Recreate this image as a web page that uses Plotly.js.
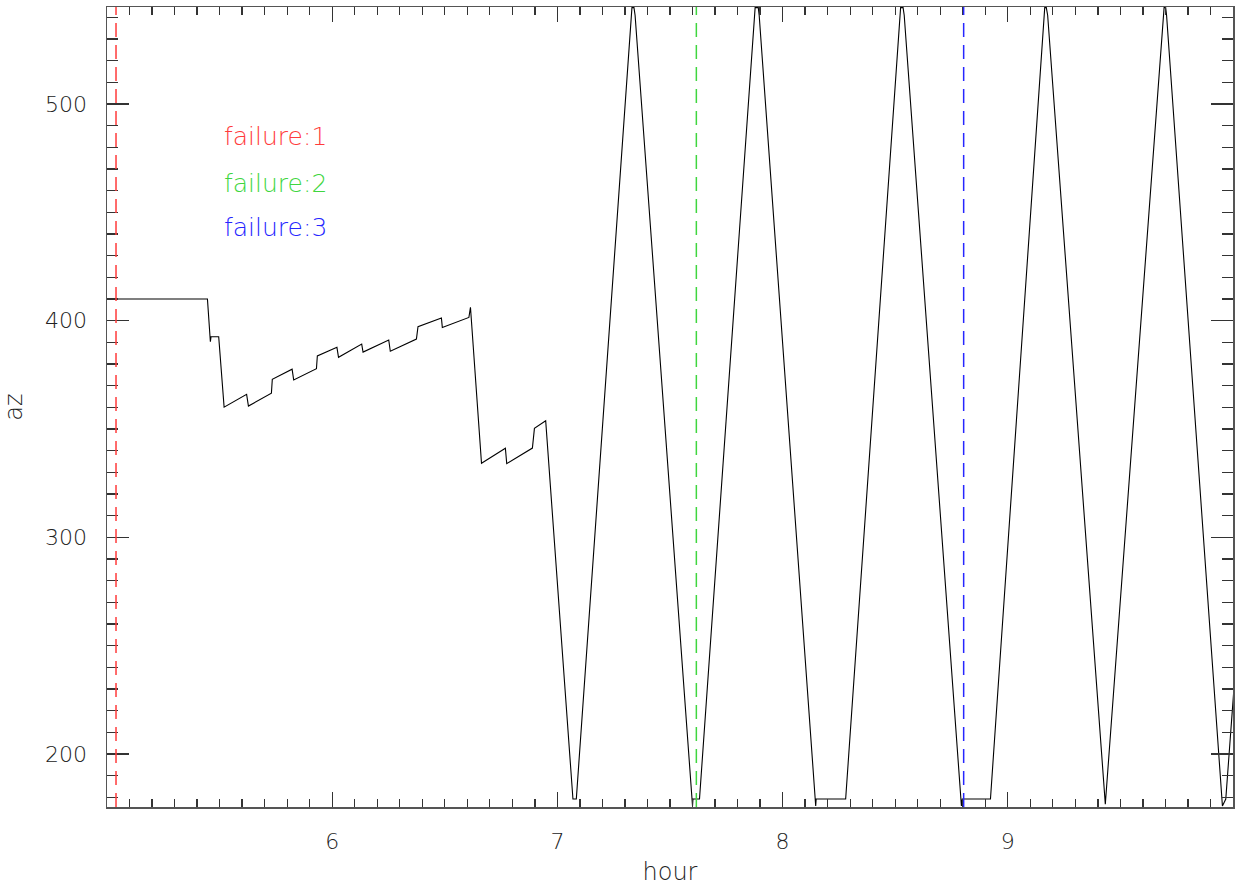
<!DOCTYPE html>
<html>
<head>
<meta charset="utf-8">
<script src="https://cdn.plot.ly/plotly-3.0.1.min.js"></script>
<style>html,body{margin:0;padding:0;background:#fff;}#chart{width:1241px;height:894px;}</style>
</head>
<body>
<div id="chart"></div>
<script>
// time in hours
const hour = [5.000,5.446,5.459,5.462,5.496,5.520,5.620,5.628,5.730,5.734,5.822,5.829,5.930,5.934,6.021,6.028,6.131,6.137,6.251,6.258,6.374,6.381,6.485,6.489,6.607,6.614,6.663,6.769,6.775,6.889,6.898,6.948,
  7.069,7.084,7.331,7.340,7.345,7.600,7.602,7.631,7.878,7.892,7.896,8.147,8.149,8.280,8.524,8.535,8.540,8.794,8.798,8.923,9.164,9.171,9.177,9.433,9.694,9.701,9.705,9.953,9.968,10.004];
// azimuth
const az = [410.0,410.0,390.3,392.6,392.6,360.1,366.0,360.6,366.5,372.9,377.6,372.6,377.8,383.7,387.7,383.1,389.2,385.5,391.1,385.9,391.5,397.2,401.2,396.9,401.5,406.2,334.2,341.1,334.0,341.2,350.3,353.8,
  179.2,179.2,544.5,544.5,541.0,176.0,179.2,179.2,544.5,544.5,541.0,176.0,179.2,179.2,544.5,544.5,541.0,176.0,179.2,179.2,544.5,544.5,541.0,176.8,544.5,544.5,541.0,176.0,179.2,230.0];

const failureHours = [5.04, 7.617, 8.804];
const failureLabels = ["failure:1", "failure:2", "failure:3"];
const failureColors = ["#ff3b3b", "#3fd63f", "#2626ff"];
const labelAz = [484.8, 463.5, 442.8];
const labelHour = 5.509;

const xTicks = [6, 7, 8, 9];
const yTicks = [200, 300, 400, 500];

const FAM = '"DejaVu Sans", "Liberation Sans", sans-serif';

const shapes = failureHours.map((h, i) => ({
  type: 'line', xref: 'x', yref: 'paper', x0: h, x1: h, y0: 0, y1: 1,
  line: {color: failureColors[i], width: 1.5, dash: '14px,8px'}
}));

const annotations = failureLabels.map((t, i) => ({
  x: labelHour, y: labelAz[i], xref: 'x', yref: 'y', text: t, showarrow: false,
  xanchor: 'left', yanchor: 'middle',
  font: {family: FAM, size: 25, weight: 200, color: failureColors[i]}
}));

const tickFont = {family: FAM, size: 22, weight: 200, color: '#222'};
const titleFont = {family: FAM, size: 24, weight: 200, color: '#222'};

const data = [{
  x: hour, y: az, type: 'scatter', mode: 'lines',
  line: {color: '#000', width: 1.1}, hoverinfo: 'skip'
}];

const layout = {
  width: 1241, height: 894,
  margin: {l: 107, r: 8, t: 7, b: 87},
  paper_bgcolor: '#fff', plot_bgcolor: '#fff',
  showlegend: false,
  xaxis: {
    range: [5, 10], tickvals: xTicks, ticktext: xTicks.map(String),
    showgrid: false, zeroline: false, showline: true, linecolor: '#555', linewidth: 1.5,
    mirror: 'allticks', ticks: 'inside', ticklen: 15, tickwidth: 1.3, tickcolor: '#333',
    tickfont: tickFont, ticklabelstandoff: 14,
    minor: {dtick: 0.1, tick0: 5, ticks: 'inside', ticklen: 8, tickwidth: 1.3, tickcolor: '#333', showgrid: false},
    title: {text: 'hour', font: titleFont, standoff: 10}
  },
  yaxis: {
    range: [175.5, 544.8], tickvals: yTicks, ticktext: yTicks.map(String),
    showgrid: false, zeroline: false, showline: true, linecolor: '#555', linewidth: 1.5,
    mirror: 'allticks', ticks: 'inside', ticklen: 22, tickwidth: 1.3, tickcolor: '#333',
    tickfont: tickFont, ticklabelstandoff: 14,
    minor: {dtick: 10, tick0: 0, ticks: 'inside', ticklen: 11, tickwidth: 1.3, tickcolor: '#333', showgrid: false},
    title: {text: 'az', font: titleFont, standoff: 18}
  },
  shapes: shapes,
  annotations: annotations
};

Plotly.newPlot('chart', data, layout, {displayModeBar: false, staticPlot: true});
</script>
</body>
</html>
